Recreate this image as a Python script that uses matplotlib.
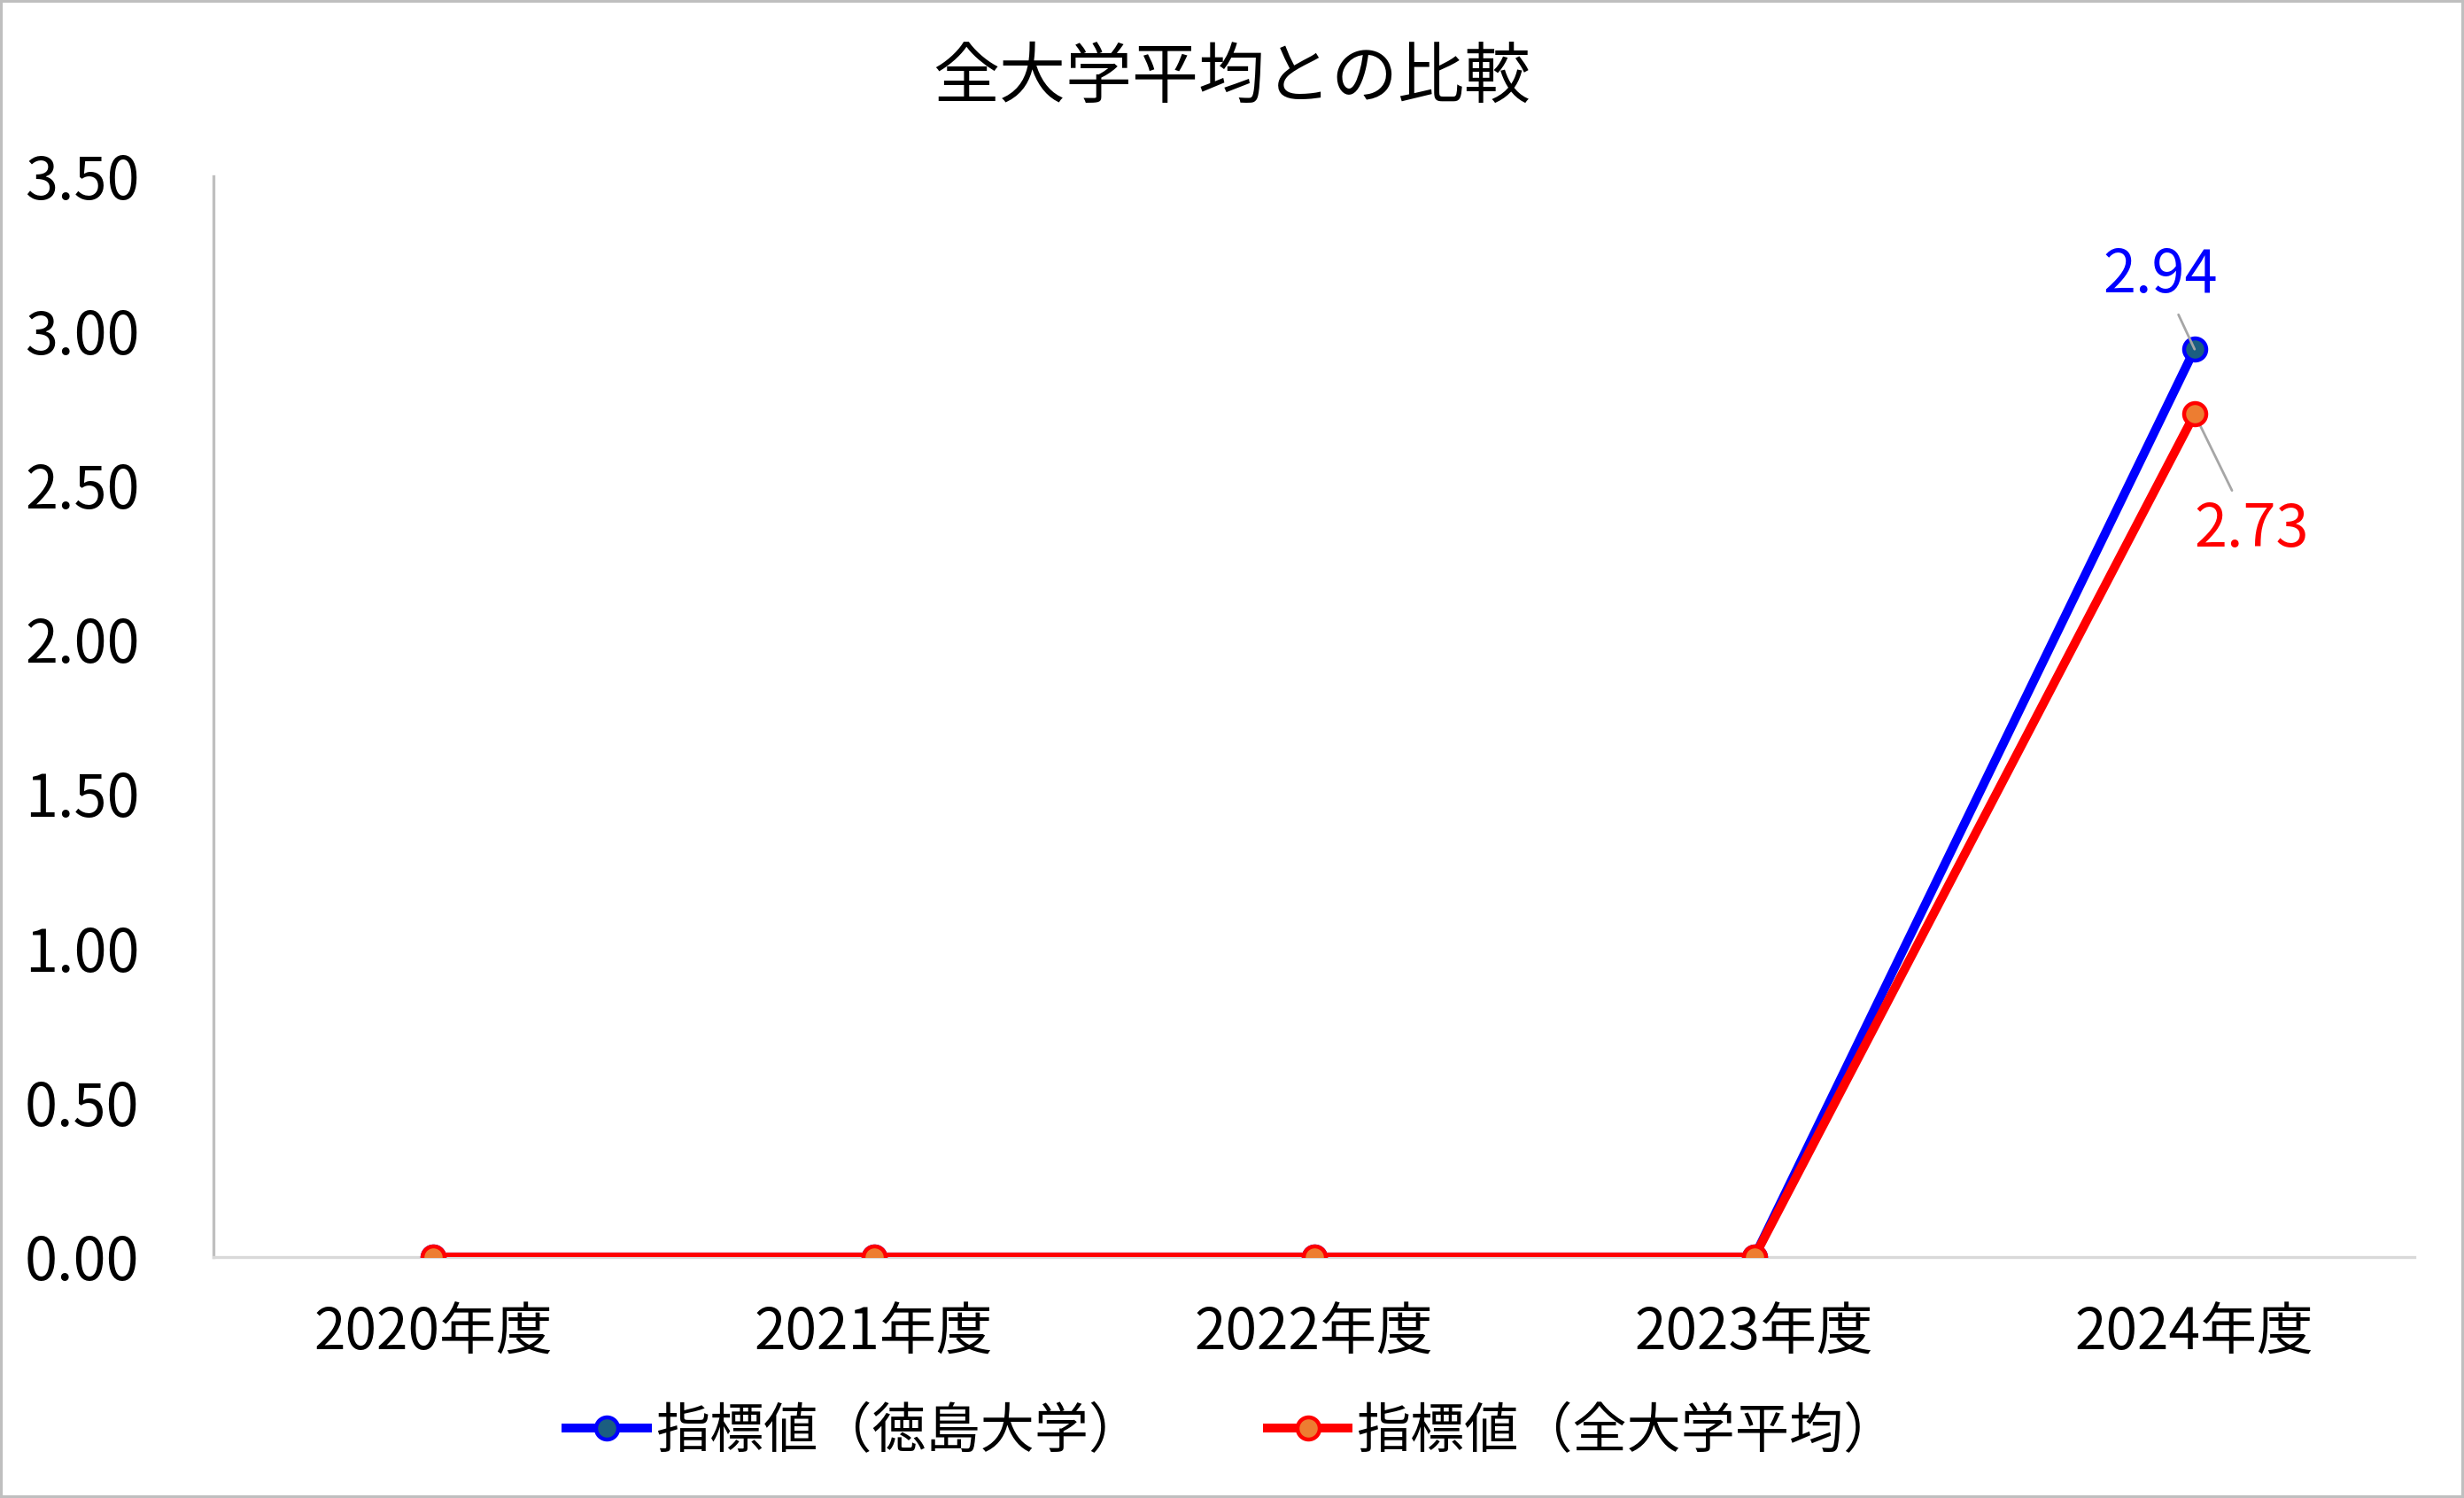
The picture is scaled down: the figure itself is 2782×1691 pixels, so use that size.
import matplotlib
matplotlib.use("Agg")
import matplotlib.pyplot as plt
from matplotlib.patches import Rectangle

plt.rcParams['font.family'] = ['Noto Sans CJK JP', 'DejaVu Sans']

# Data
years = ["2020年度", "2021年度", "2022年度", "2023年度", "2024年度"]
tokushima = [0, 0, 0, 0, 2.94]
all_avg = [0, 0, 0, 0, 2.73]
label_tokushima = "指標値（徳島大学）"
label_all = "指標値（全大学平均）"
title = "全大学平均との比較"

fig = plt.figure(figsize=(13.91, 8.455), dpi=200)
ax = fig.add_axes([0.0866, 0.1609, 0.8934, 0.7214])

x = list(range(len(years)))
ax.plot(x, tokushima, color="#0000FF", linewidth=3.6, marker="o", markersize=9,
        markerfacecolor="#1B5E80", markeredgecolor="#0000FF", markeredgewidth=1.6,
        label=label_tokushima, zorder=3)
ax.plot(x, all_avg, color="#FF0000", linewidth=3.6, marker="o", markersize=9,
        markerfacecolor="#ED7D31", markeredgecolor="#FF0000", markeredgewidth=1.6,
        label=label_all, zorder=4)

# data labels with leader lines
ax.annotate(f"{tokushima[-1]:.2f}", xy=(x[-1], tokushima[-1]), xytext=(-14, 30),
            textcoords="offset points", ha="center", va="center", fontsize=24,
            color="#0000FF",
            arrowprops=dict(arrowstyle="-", color="#A6A6A6", lw=1.0, shrinkA=2, shrinkB=0))
ax.annotate(f"{all_avg[-1]:.2f}", xy=(x[-1], all_avg[-1]), xytext=(23, -47),
            textcoords="offset points", ha="center", va="center", fontsize=24,
            color="#FF0000",
            arrowprops=dict(arrowstyle="-", color="#A6A6A6", lw=1.0, shrinkA=2, shrinkB=0))

ax.set_xlim(-0.5, len(years) - 0.5)
ax.set_ylim(0, 3.5)
ax.set_yticks([0, 0.5, 1.0, 1.5, 2.0, 2.5, 3.0, 3.5])
ax.set_yticklabels([f"{v:.2f}" for v in ax.get_yticks()])
ax.set_xticks(x)
ax.set_xticklabels(years)
ax.tick_params(axis="y", length=0, pad=30, labelsize=24)
ax.tick_params(axis="x", length=0, pad=19, labelsize=23)

for s in ["top", "right"]:
    ax.spines[s].set_visible(False)
ax.spines["left"].set_color("#BFBFBF")
ax.spines["bottom"].set_color("#D9D9D9")
ax.spines["left"].set_linewidth(1.2)
ax.spines["bottom"].set_linewidth(1.2)

fig.text(0.5, 0.948, title, ha="center", va="center", fontsize=27)

fig.legend(loc="center", bbox_to_anchor=(0.5, 0.044), ncol=2, frameon=False,
           fontsize=22, handlelength=1.5, columnspacing=2.3, handletextpad=0.15)

fig.patches.append(Rectangle((0.0005, 0.0008), 0.999, 0.9985, transform=fig.transFigure,
                             fill=False, edgecolor="#BFBFBF", linewidth=1.5))

fig.savefig("out.png", dpi=200)
